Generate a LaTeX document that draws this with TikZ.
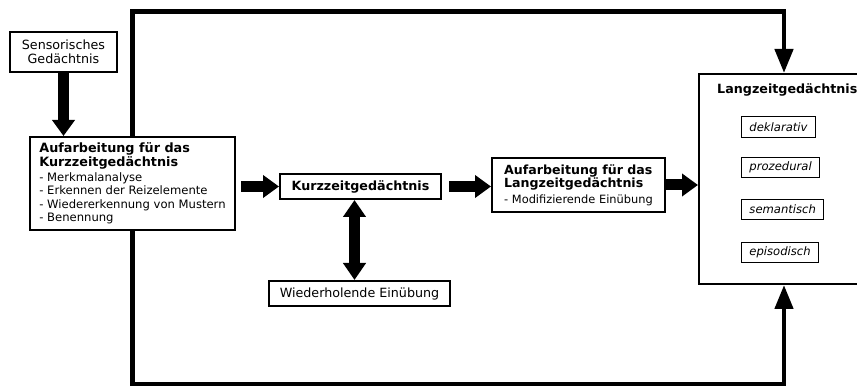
\documentclass[tikz,border=0pt]{standalone}
\usepackage{fontspec}
\setmainfont{DejaVu Sans}
\usetikzlibrary{arrows.meta}
\begin{document}
\begin{tikzpicture}[x=1pt,y=-1pt,
  box/.style={draw,line width=2pt,fill=white,inner sep=0pt,font=\fontsize{12.7}{14.4}\selectfont},
  subbox/.style={draw,line width=0.9pt,inner xsep=8pt,inner ysep=0pt,minimum height=20.5pt,anchor=west,font=\fontsize{11.6}{13}\selectfont\itshape},
  blockarrow/.style={line width=11pt,-{Triangle[width=22pt,length=16pt]}},
  dblarrow/.style={line width=11pt,{Triangle[width=22pt,length=17pt]}-{Triangle[width=22pt,length=17pt]}},
  looparrow/.style={line width=4.5pt,-{Triangle[width=18pt,length=24pt]}}
]
\useasboundingbox (0,0) rectangle (857,387);
\clip (0,0) rectangle (857,387);
\fill[white] (0,0) rectangle (857,387);

\node[box,minimum width=107pt,minimum height=40pt,align=center] (sens) at (63.5,52) {Sensorisches\\Gedächtnis};

\node[box,minimum width=205pt,minimum height=93pt,inner xsep=9pt,align=left,font=\fontsize{11.6}{13.4}\selectfont] (kza) at (132.5,183.5)
  {{\bfseries\fontsize{12.8}{13.4}\selectfont Aufarbeitung für das}\\{\bfseries\fontsize{12.8}{13.4}\selectfont Kurzzeitgedächtnis}\\[1.6pt]- Merkmalanalyse\\- Erkennen der Reizelemente\\- Wiedererkennung von Mustern\\- Benennung};

\node[box,font=\bfseries\fontsize{12.7}{14}\selectfont,minimum width=161pt,minimum height=25pt] (kz) at (360.5,186.5) {Kurzzeitgedächtnis};

\node[box,minimum width=181pt,minimum height=25pt] (wh) at (359.5,293.5) {Wiederholende Einübung};

\node[box,minimum width=173pt,minimum height=54pt,inner xsep=8pt,align=left,font=\fontsize{11.4}{13.3}\selectfont] (lza) at (578.5,185)
  {{\bfseries\fontsize{12.6}{13.3}\selectfont Aufarbeitung für das}\\{\bfseries\fontsize{12.6}{13.3}\selectfont Langzeitgedächtnis}\\[2.7pt]- Modifizierende Einübung};

\node[box,anchor=north west,minimum width=170pt,minimum height=210pt] (lzg) at (698,73) {};
\node[anchor=base west,inner sep=0pt,font=\bfseries\fontsize{12.7}{14}\selectfont] (lzgt) at (717,93.3) {Langzeitgedächtnis};

\node[subbox] (dek) at (741,127) {deklarativ};
\node[subbox] (pro) at (741,167.5) {prozedural};
\node[subbox] (sem) at (741,209.5) {semantisch};
\node[subbox] (epi) at (741,252.5) {episodisch};

\draw[blockarrow] (sens.south) -- (sens.south |- kza.north);
\draw[blockarrow,shorten <=5pt] (kza.east |- kz.west) -- (kz.west);
\draw[blockarrow,shorten <=7pt] (kz.east) -- (kz.east -| lza.west);
\draw[blockarrow] (lza.east) -- (lza.east -| lzg.west);
\draw[dblarrow] ([xshift=-6pt]kz.south) -- ([xshift=-6pt]kz.south |- wh.north);

\coordinate (top) at (0,11.5);
\coordinate (bot) at (0,384);
\draw[looparrow] (kza.north) -- (kza.north |- top) -| (lzg.north);
\draw[looparrow] (kza.south) -- (kza.south |- bot) -| (lzg.south);
\end{tikzpicture}
\end{document}
